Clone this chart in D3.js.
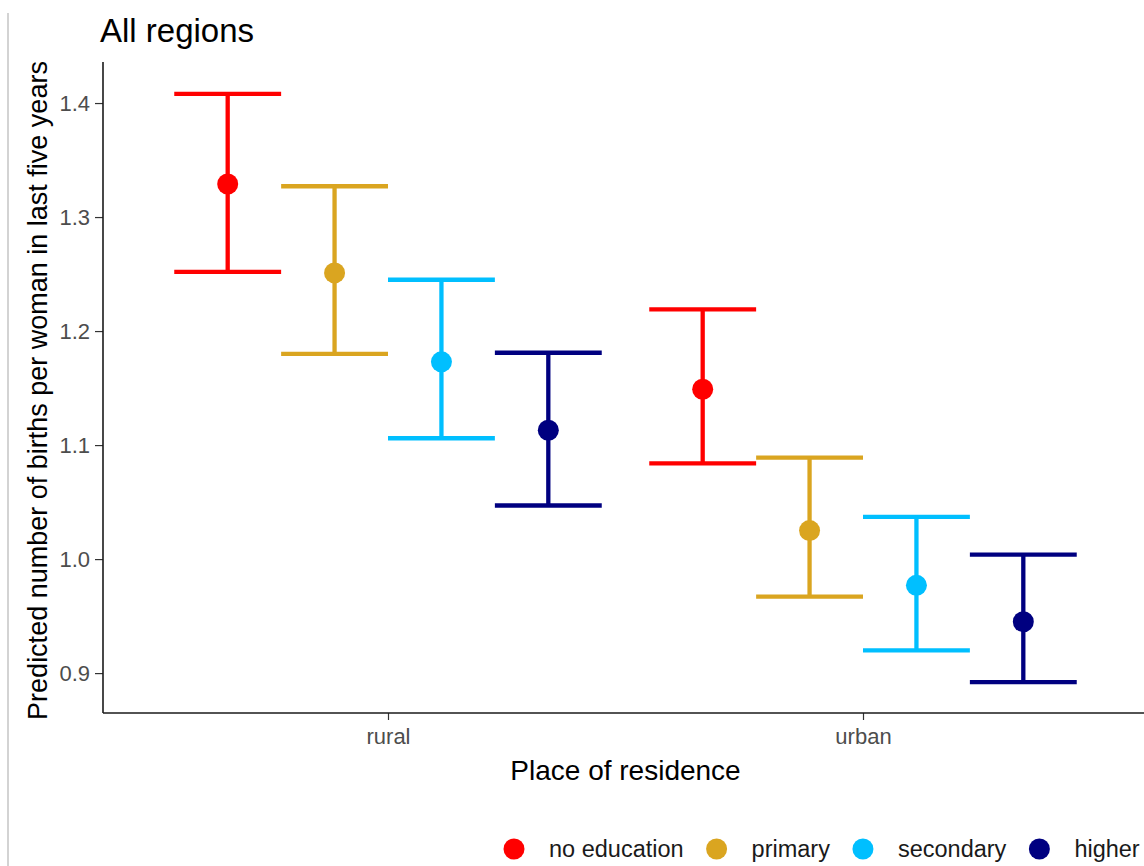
<!DOCTYPE html>
<html>
<head>
    <title>All regions</title>
    <script src="https://cdnjs.cloudflare.com/ajax/libs/d3/7.8.5/d3.min.js"></script>
    <style>
        body { margin: 0; background: #fff; }
        svg text { font-family: 'Liberation Sans', Arial, sans-serif; }
    </style>
</head>
<body>
    <div id="chart"></div>

    <script>
//------------------------------------DATA--------------------------------
        var places = ["rural", "urban"];
        var education = ["no education", "primary", "secondary", "higher"];
        var eduColors = ["#FF0000", "#DAA520", "#00BFFF", "#000080"];

        // predicted value, lower and upper bound, one array per place
        var fitRural   = [1.329, 1.251, 1.173, 1.113];
        var lowerRural = [1.252, 1.180, 1.106, 1.047];
        var upperRural = [1.408, 1.327, 1.245, 1.181];

        var fitUrban   = [1.149, 1.025, 0.977, 0.945];
        var lowerUrban = [1.084, 0.967, 0.920, 0.892];
        var upperUrban = [1.219, 1.089, 1.037, 1.004];

        var yTicks = [0.9, 1.0, 1.1, 1.2, 1.3, 1.4];

        var rows = [];
        education.forEach(function (e, i) {
            rows.push({ place: "rural", edu: e, fit: fitRural[i], lo: lowerRural[i], hi: upperRural[i] });
            rows.push({ place: "urban", edu: e, fit: fitUrban[i], lo: lowerUrban[i], hi: upperUrban[i] });
        });

//------------------------------------MAKES THE BOX--------------------------
        var W = 1144, H = 866;
        var margin = { top: 62, left: 103 };
        var plotBottom = 713;

        var svg = d3.select("#chart").append("svg")
            .attr("width", W)
            .attr("height", H);

        // thin grey frame line on the far left of the screenshot
        svg.append("line")
            .attr("x1", 8).attr("x2", 8)
            .attr("y1", 13).attr("y2", H)
            .attr("stroke", "#c4c4c4")
            .attr("stroke-width", 1.5);

//------------------------------------SCALES--------------------------------
        // discrete x with 0.6 expansion each side like ggplot
        var x = d3.scalePoint()
            .domain(places)
            .range([margin.left, margin.left + 1045])
            .padding(0.6);
        var unit = x.step();

        // dodge width 0.9
        var xDodge = d3.scaleBand()
            .domain(education)
            .range([-0.45 * unit, 0.45 * unit]);

        var y = d3.scaleLinear()
            .domain([0.865, 1.436])
            .range([plotBottom, margin.top]);

        var color = d3.scaleOrdinal().domain(education).range(eduColors);

//------------------------------------AXES--------------------------------
        var yAxis = svg.append("g")
            .attr("transform", "translate(" + margin.left + ",0)")
            .call(d3.axisLeft(y).tickValues(yTicks).tickFormat(d3.format(".1f"))
                .tickSize(8).tickPadding(5));
        yAxis.select(".domain").remove();
        yAxis.append("line")
            .attr("x1", 0).attr("x2", 0)
            .attr("y1", margin.top).attr("y2", plotBottom)
            .attr("stroke", "#1a1a1a").attr("stroke-width", 1.6);

        var xAxis = svg.append("g")
            .attr("transform", "translate(0," + plotBottom + ")")
            .call(d3.axisBottom(x).tickSize(7).tickPadding(8));
        xAxis.select(".domain").remove();
        xAxis.append("line")
            .attr("x1", margin.left).attr("x2", W)
            .attr("y1", 0).attr("y2", 0)
            .attr("stroke", "#1a1a1a").attr("stroke-width", 1.6);

        svg.selectAll(".tick line").attr("stroke", "#333").attr("stroke-width", 1.2);
        svg.selectAll(".tick text")
            .attr("fill", "#4D4D4D")
            .style("font-size", "22px");

        // titles
        svg.append("text")
            .attr("x", 100).attr("y", 42)
            .style("font-size", "33px")
            .attr("fill", "#000")
            .text("All regions");

        svg.append("text")
            .attr("transform", "translate(47," + ((margin.top + plotBottom) / 2 + 3) + ") rotate(-90)")
            .attr("text-anchor", "middle")
            .style("font-size", "27px")
            .attr("fill", "#000")
            .text("Predicted number of births per woman in last five years");

        svg.append("text")
            .attr("x", margin.left + 1045 / 2)
            .attr("y", 780)
            .attr("text-anchor", "middle")
            .style("font-size", "28px")
            .attr("fill", "#000")
            .text("Place of residence");

//------------------------------------ERROR BARS--------------------------------
        var bars = svg.append("g").selectAll("g")
            .data(rows)
            .enter()
            .append("g")
            .attr("stroke", function (d) { return color(d.edu); })
            .attr("fill", function (d) { return color(d.edu); });

        function cx(d) { return x(d.place) + xDodge(d.edu) + xDodge.bandwidth() / 2; }

        bars.append("line")
            .attr("x1", cx).attr("x2", cx)
            .attr("y1", function (d) { return y(d.lo); })
            .attr("y2", function (d) { return y(d.hi); })
            .attr("stroke-width", 4.3);

        ["lo", "hi"].forEach(function (k) {
            bars.append("line")
                .attr("x1", function (d) { return x(d.place) + xDodge(d.edu); })
                .attr("x2", function (d) { return x(d.place) + xDodge(d.edu) + xDodge.bandwidth(); })
                .attr("y1", function (d) { return y(d[k]); })
                .attr("y2", function (d) { return y(d[k]); })
                .attr("stroke-width", 4.3);
        });

        bars.append("circle")
            .attr("cx", cx)
            .attr("cy", function (d) { return y(d.fit); })
            .attr("r", 10.5)
            .attr("stroke", "none");

//------------------------------------LEGEND--------------------------------
        var legend = svg.append("g").attr("transform", "translate(0,849)");
        var lx = 514;
        education.forEach(function (e) {
            legend.append("circle")
                .attr("cx", lx).attr("cy", 0).attr("r", 10.5)
                .attr("fill", color(e));
            var t = legend.append("text")
                .attr("x", lx + 35).attr("y", 0)
                .attr("dy", "0.35em")
                .style("font-size", "23.5px")
                .attr("fill", "#1a1a1a")
                .text(e);
            lx = lx + 35 + t.node().getComputedTextLength() + 33;
        });
    </script>
</body>
</html>
